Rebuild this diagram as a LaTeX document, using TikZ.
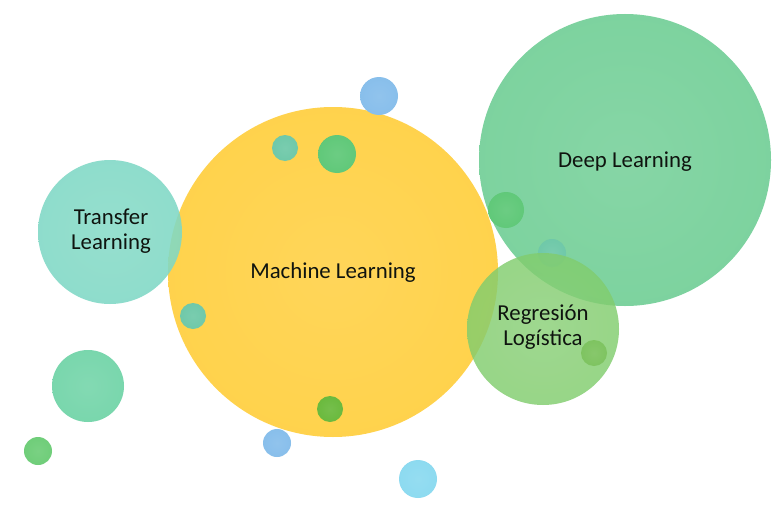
\documentclass[tikz,border=0pt]{standalone}
\usepackage{fontspec}
\setmainfont{Carlito}
\colorlet{ballc}{white}
\pgfdeclareradialshading[ballc]{rim}{\pgfpoint{0bp}{0bp}}{color(0bp)=(ballc!92!white); color(28bp)=(ballc); color(42bp)=(ballc); color(47bp)=(ballc!88!black); color(49bp)=(ballc!78!black); color(50bp)=(ballc!85!white)}
\definecolor{mlyellow}{RGB}{255,210,75}
\definecolor{dlgreen}{RGB}{124,210,158}
\definecolor{tlteal}{RGB}{126,216,196}
\definecolor{rggreen}{RGB}{128,204,108}
\definecolor{bblue}{RGB}{135,190,235}
\definecolor{bcyan}{RGB}{140,218,240}
\definecolor{steal}{RGB}{110,200,168}
\definecolor{sgreen}{RGB}{95,200,120}
\definecolor{lgreen}{RGB}{105,185,60}
\definecolor{mteal}{RGB}{120,214,172}
\definecolor{tgreen}{RGB}{110,205,120}
\definecolor{rgsmall}{RGB}{125,195,95}
\definecolor{txt}{RGB}{15,20,15}
\tikzset{
  bub/.style 2 args={circle, inner sep=0pt, minimum size=#2*2pt, draw=none,
    shading=rim, /utils/exec={\colorlet{ballc}{#1}}},
  lbl/.style={font=\fontsize{22.8}{25}\selectfont, text=txt, align=center},
}
\begin{document}
\begin{tikzpicture}[x=1pt,y=-1pt]
\useasboundingbox (0,0) rectangle (773,511);
\fill[white] (0,0) rectangle (773,511);
% big circles
\node[bub={dlgreen}{146}] (dl) at (625,160) {};
\node[lbl] (dlt) at (625,162) {Deep Learning};
\node[bub={mlyellow}{165}] (ml) at (333,272) {};
\node[lbl] (mlt) at (333,273) {Machine Learning};
% small bubbles
\node[bub={bblue}{19}] (b1) at (379,96) {};
\node[bub={steal}{13}] (b2) at (285,148) {};
\node[bub={sgreen}{19}] (b3) at (337,154) {};
\node[bub={steal}{13}] (b4) at (193,316) {};
\node[bub={lgreen}{13}] (b5) at (330,409) {};
\node[bub={bblue}{14}] (b6) at (277,443) {};
\node[bub={bcyan}{19}] (b7) at (418,479) {};
\node[bub={sgreen}{18}] (b8) at (506,210) {};
\node[bub={steal}{14}] (b9) at (552,253) {};
\node[bub={mteal}{36}] (b10) at (88,386) {};
\node[bub={tgreen}{14}] (b11) at (38,451) {};
% translucent circles
\node[bub={tlteal}{72}, fill opacity=0.88] (tl) at (110,232) {};
\node[lbl] (tlt) at (111,231) {Transfer\\Learning};
\node[bub={rggreen}{76}, fill opacity=0.82] (rg) at (543,329) {};
\node[bub={rgsmall}{13}] (b12) at (594,353) {};
\node[lbl] (rgt) at (543,327) {Regresión\\Logística};
\end{tikzpicture}
\end{document}
